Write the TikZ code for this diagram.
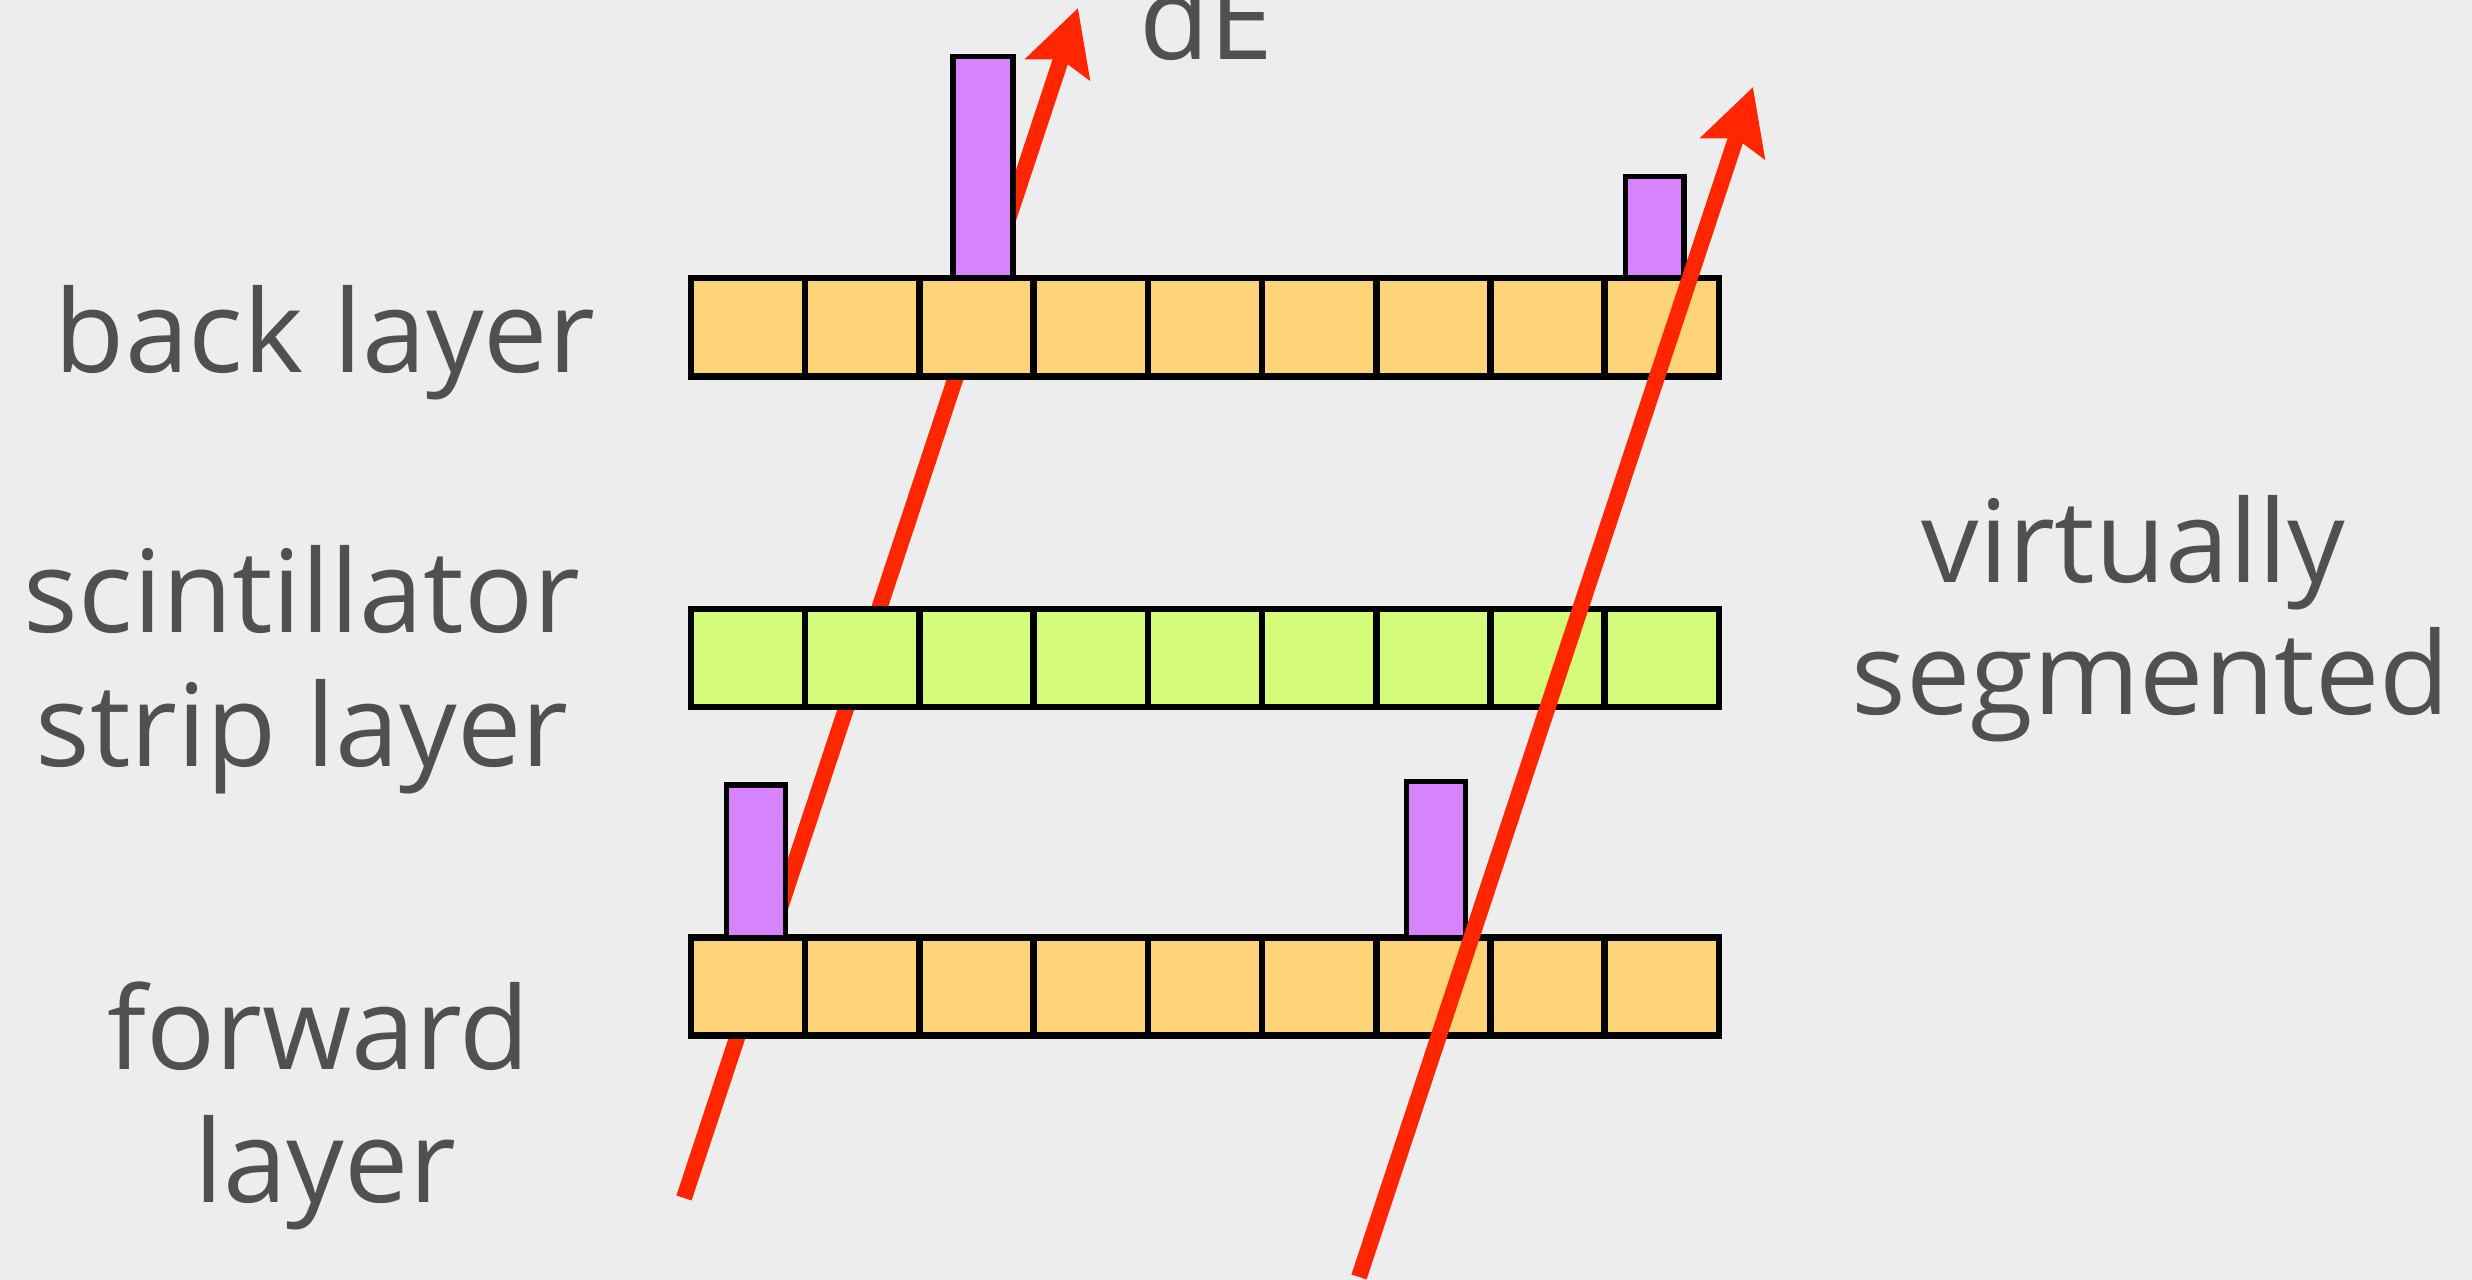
\documentclass[tikz,border=0pt]{standalone}
\usepackage{fontspec}
\setmainfont{Open Sans}
\usetikzlibrary{arrows.meta}
\definecolor{bgc}{RGB}{237,237,237}
\definecolor{cellY}{HTML}{FFD479}
\definecolor{cellG}{HTML}{D4FB79}
\definecolor{barC}{HTML}{D783FF}
\definecolor{trackC}{HTML}{FF2600}
\definecolor{txtC}{RGB}{79,80,81}
\begin{document}
\begin{tikzpicture}[x=0.01cm,y=-0.01cm,
  cellbox/.style={draw=black, line width=0.065cm, minimum width=1.1422cm, minimum height=0.98cm, inner sep=0pt, outer sep=0pt},
  backcell/.style={cellbox, fill=cellY},
  scintcell/.style={cellbox, fill=cellG},
  dEbar/.style={draw=black, fill=barC, line width=0.055cm, inner sep=0pt, outer sep=0pt, anchor=south},
  lbl/.style={font=\fontsize{32.6}{38}\selectfont, text=txtC, anchor=base, inner sep=0pt},
  track/.style={draw=trackC, line width=0.16cm, -{Stealth[length=0.64cm,width=0.66cm,inset=0.1cm]}}]
\useasboundingbox (0,0) rectangle (2472,1280);
\fill[bgc] (0,0) rectangle (2472,1280);
% track 1 (behind the detector)
\coordinate (t1s) at (684,1198);
\coordinate (t1e) at (1078,8);
\draw[track] (t1s) -- (t1e);
% layers
\foreach \i in {0,...,8} {
  \node[backcell] (b\i) at ({691+114.22*(\i+0.5)},327.25) {};
  \node[scintcell] (s\i) at ({691+114.22*(\i+0.5)},658) {};
  \node[backcell] (f\i) at ({691+114.22*(\i+0.5)},986.5) {};
}
% energy deposits
\node[dEbar, minimum width=0.6cm, minimum height=2.215cm] (bar1) at (983,278) {};
\node[dEbar, minimum width=0.585cm, minimum height=1.013cm] (bar2) at (1654.75,278) {};
\node[dEbar, minimum width=0.59cm, minimum height=1.525cm] (bar3) at (756,937.5) {};
\node[dEbar, minimum width=0.588cm, minimum height=1.559cm] (bar4) at (1436.1,937.5) {};
% track 2 (in front)
\coordinate (t2s) at (1359,1277);
\coordinate (t2e) at (1753,87);
\draw[track] (t2s) -- (t2e);
% labels
\node[lbl] (tdE) at (1206.5,60) {dE};
\node[lbl] (tBack) at (325,373) {back layer};
\node[lbl] (tScA) at (302,633) {scintillator};
\node[lbl] (tScB) at (302,767) {strip layer};
\node[lbl] (tFwA) at (318.5,1070) {forward};
\node[lbl] (tFwB) at (325,1203) {layer};
\node[lbl] (tVa) at (2133.5,583) {virtually};
\node[lbl] (tVb) at (2150.5,715) {segmented};
\end{tikzpicture}
\end{document}
